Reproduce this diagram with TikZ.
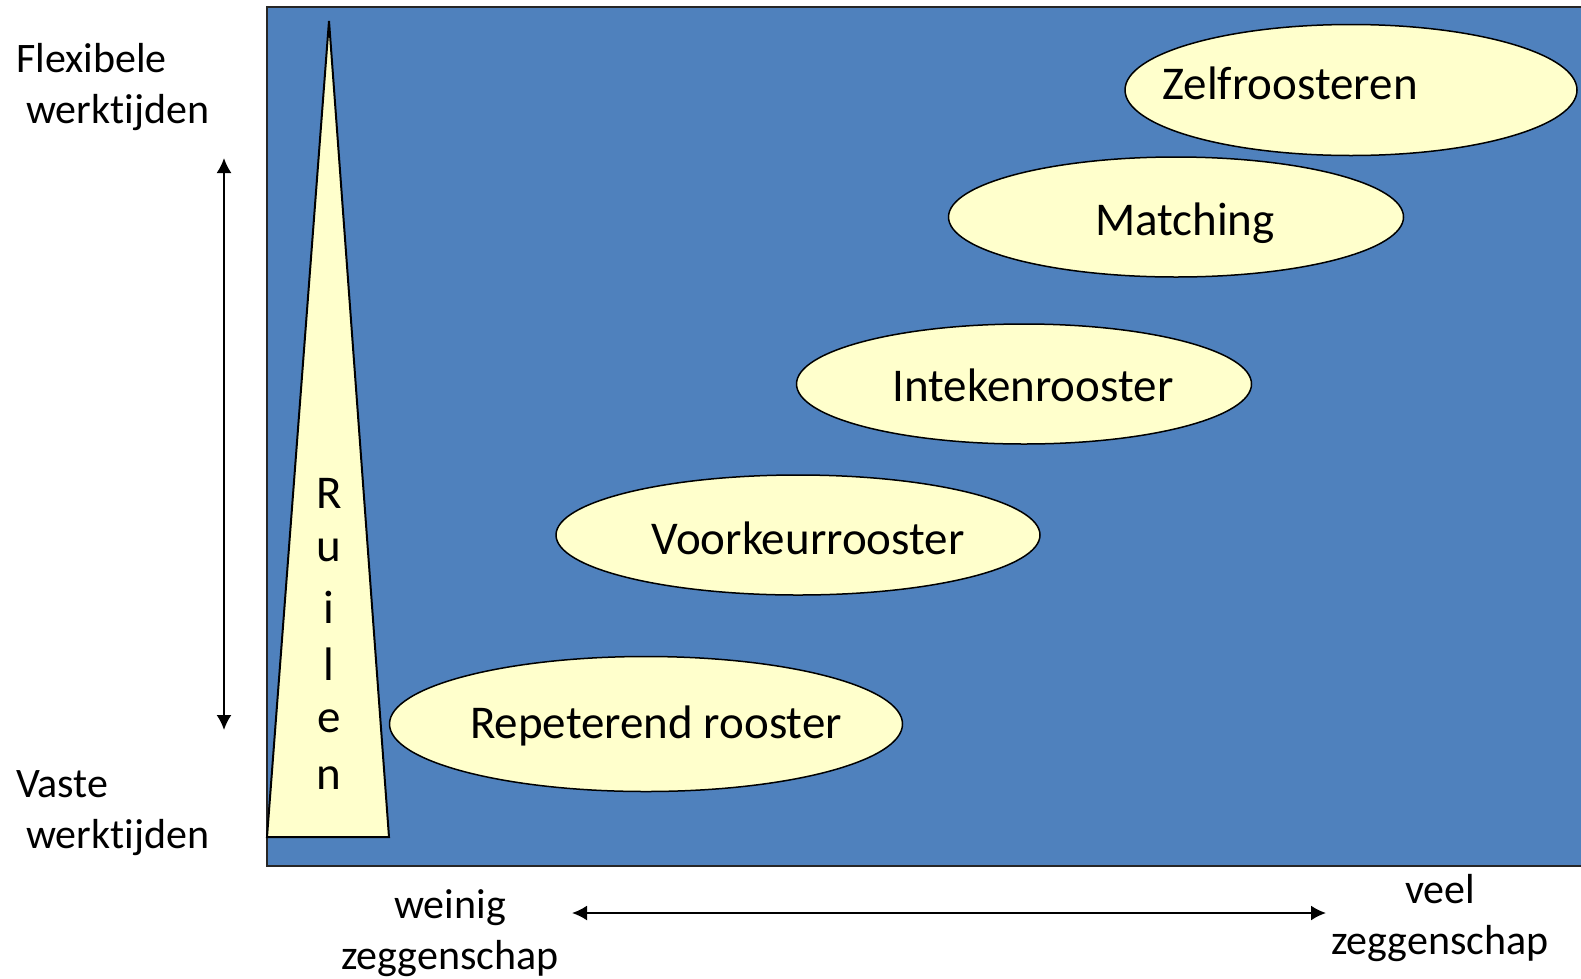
\documentclass[tikz,border=0pt]{standalone}
\usepackage{fontspec}
\setmainfont[Ligatures=NoCommon]{Carlito}
\usepackage{tikz}
\usetikzlibrary{arrows.meta,shapes.geometric}
\definecolor{vlak}{HTML}{4F81BD}
\definecolor{geel}{HTML}{FFFFCC}

\begin{document}
\begin{tikzpicture}[x=1pt,y=-1pt]
\tikzset{oval/.style = {shape=ellipse,draw,fill=geel,line width=1.5pt,inner sep=0pt}}
\tikzset{label/.style = {font=\fontsize{47}{50}\selectfont}}
\tikzset{side/.style = {font=\fontsize{42}{51}\selectfont,inner sep=0pt}}
\tikzset{edge/.style = {<->,> = {Latex[length=15pt,width=15pt]},line width=2pt}}
\useasboundingbox (0,0) rectangle (1581,978);
% background
\draw[fill=vlak,line width=2pt,draw=black!85] (267,7) rectangle (1600,866);
% ruilen
\draw[fill=geel,line width=2pt] (267,837) -- (329,21) -- (389,837) -- cycle;
\foreach \ch [count=\i] in {R,u,i,l,e,n}
  \node[label] (r\i) at (329,436+57*\i) {\ch};
% ovals
\node[oval,minimum width=452,minimum height=131] (zelf)  at (1351,90)  {};
\node[oval,minimum width=455,minimum height=120] (match) at (1176,217) {};
\node[oval,minimum width=455,minimum height=120] (intek) at (1024,384) {};
\node[oval,minimum width=484,minimum height=120] (voork) at (798,535)  {};
\node[oval,minimum width=513,minimum height=135] (repet) at (646,724)  {};
\node[label] at ([xshift=-61,yshift=7]zelf.center)   {Zelfroosteren};
\node[label] at ([xshift=9,yshift=-6]match.center)   {Matching};
\node[label] at ([xshift=9,yshift=-1]intek.center)   {Intekenrooster};
\node[label] at ([xshift=10,yshift=-3]voork.center)  {Voorkeurrooster};
\node[label] at ([xshift=10,yshift=-2]repet.center)  {Repeterend rooster};
% axes
\node[side,align=left,anchor=west] (flex) at (16,87) {Flexibele\\\hspace*{10pt}werktijden};
\node[side,align=left,anchor=west] (vast) at (16,813) {Vaste\\\hspace*{10pt}werktijden};
\node[side,align=center] (weinig) at (450,933) {weinig\\zeggenschap};
\node[side,align=center] (veel) at (1440,918) {veel\\zeggenschap};
\coordinate (top) at (224,158);
\coordinate (bot) at (224,730);
\coordinate (lft) at (572,913);
\coordinate (rgt) at (1326,913);
\draw[edge] (top) to (bot);
\draw[edge] (lft) to (rgt);
\end{tikzpicture}
\end{document}
